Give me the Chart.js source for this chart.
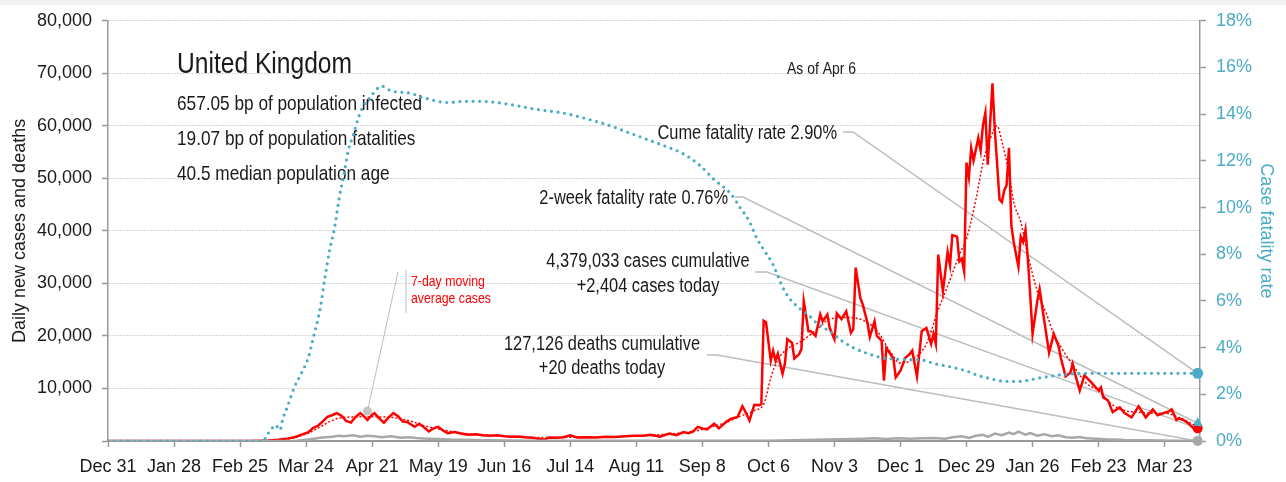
<!DOCTYPE html>
<html>
<head>
<meta charset="utf-8">
<script src="https://cdn.jsdelivr.net/npm/chart.js@4.4.1/dist/chart.umd.min.js"></script>
<style>
  html, body { margin: 0; padding: 0; background: #fff; }
</style>
</head>
<body>
<canvas id="chart" width="1286" height="482"></canvas>
<script>
// days counted from Dec 31, 2019 (day 0) to Apr 6, 2021 (day 462)
const tickDays = [0, 28, 56, 84, 112, 140, 168, 196, 224, 252, 280, 308, 336, 364, 392, 420, 448];
const tickLabels = ['Dec 31', 'Jan 28', 'Feb 25', 'Mar 24', 'Apr 21', 'May 19', 'Jun 16', 'Jul 14',
  'Aug 11', 'Sep 8', 'Oct 6', 'Nov 3', 'Dec 1', 'Dec 29', 'Jan 26', 'Feb 23', 'Mar 23'];

// daily new cases
const caseDays = [0, 30, 60, 64, 68, 72, 76, 79, 82, 85, 87, 89, 91, 93, 95, 97, 99, 101, 103, 105,
  107, 109, 110, 112, 113, 115, 117, 119, 121, 123, 125, 127, 130, 132, 134, 136, 138, 140, 142, 144,
  147, 150, 153, 156, 159, 162, 165, 168, 171, 174, 177, 180, 183, 185, 187, 190, 193, 196, 199, 203,
  207, 211, 215, 219, 223, 227, 230, 234, 238, 241, 244, 246, 248, 250, 252, 254, 257, 259, 262, 264,
  267, 269, 270, 272, 274, 276, 277, 278, 279, 281, 282, 283, 284, 286, 287, 288, 290, 291, 293, 294,
  295, 297, 298, 300, 302, 303, 305, 306, 308, 309, 311, 313, 315, 316, 317, 319, 320, 322, 323, 325,
  326, 328, 329, 330, 333, 334, 336, 338, 340, 341, 343, 345, 347, 349, 350, 351, 352, 354, 356, 357,
  358, 360, 361, 362, 363, 364, 365, 366, 367, 369, 370, 371, 372, 373, 375, 376, 378, 379, 380, 381,
  382, 383, 384, 386, 387, 388, 389, 390, 391, 392, 394, 395, 397, 399, 401, 403, 404, 406, 408, 409,
  410, 412, 414, 417, 420, 421, 422, 424, 426, 429, 431, 434, 437, 440, 443, 445, 450, 451, 453, 454,
  456, 458, 460, 462];
const caseValues = [0, 0, 0, 50, 100, 250, 450, 700, 1200, 1700, 2500, 2900, 3700, 4600, 4900, 5300, 4800, 3800, 3500, 4600,
  5300, 4500, 4000, 5000, 5300, 4300, 3500, 4500, 5300, 4700, 3700, 3600, 2700, 3300, 2600, 1800, 2400, 2700, 2000, 1500,
  1700, 1400, 1200, 1300, 1100, 1000, 1100, 900, 800, 850, 700, 600, 400, 250, 650, 600, 700, 1100, 650, 700,
  650, 800, 750, 900, 1000, 1000, 1200, 800, 1400, 1100, 1700, 1500, 1800, 2700, 2400, 2200, 3300, 2400, 3600, 4200,
  4600, 6600, 5800, 3900, 6900, 6800, 7000, 22900, 22600, 15300, 17200, 15300, 16600, 12800, 14700, 19400, 18700, 15700, 16500, 17500,
  26600, 20900, 20900, 20000, 24100, 22800, 24100, 21500, 19400, 24300, 23200, 24700, 20600, 21300, 33000, 27200, 26000, 22500, 19800, 22800,
  20000, 19100, 11500, 17700, 15700, 12100, 13400, 15800, 16600, 17200, 12300, 20900, 21500, 18500, 20400, 18500, 35500, 28500, 36000, 33500,
  39200, 38900, 34200, 34700, 32300, 53000, 50200, 55800, 53400, 57700, 55300, 60200, 62500, 52600, 68100, 59200, 46000, 45500, 47700, 48700,
  55800, 41100, 37900, 33200, 38900, 37900, 40200, 34700, 27900, 20400, 26600, 28900, 22800, 16800, 20400, 18100, 15800, 12300, 13000, 14700,
  12800, 9600, 12500, 11100, 9600, 10200, 8300, 7700, 5500, 6400, 5300, 4500, 6600, 4500, 6000, 4900, 5700, 6000, 4000, 4300,
  4000, 3400, 2500, 2404];

// 7-day moving average of cases
const avgDays = [0, 60, 70, 78, 85, 90, 95, 100, 110, 120, 128, 135, 142, 150, 160, 170, 180, 190, 200, 210,
  220, 230, 240, 248, 255, 262, 268, 274, 278, 281, 284, 288, 294, 300, 306, 313, 320, 326, 332, 336,
  342, 347, 352, 356, 361, 364, 368, 371, 374, 377, 379, 382, 384, 387, 390, 394, 398, 401, 405, 409,
  415, 420, 425, 431, 437, 442, 448, 454, 459, 462];
const avgValues = [0, 0, 150, 500, 1500, 2700, 3900, 4500, 4600, 4500, 3800, 2800, 2100, 1500, 1100, 850, 650, 650, 750, 750,
  850, 1100, 1400, 1800, 2600, 3500, 4700, 5800, 7000, 12000, 15500, 17500, 19000, 21000, 23200, 23500, 23000, 21000, 16800, 14800,
  15800, 18500, 25000, 29500, 35500, 38500, 46000, 53000, 57500, 60000, 57000, 51000, 45500, 41700, 35500, 28500, 24100, 20400, 17200, 14500,
  10900, 9600, 7200, 5800, 5500, 5300, 5300, 4500, 3400, 2700];

// daily deaths
const deathDays = [0, 75, 80, 85, 90, 95, 98, 100, 104, 107, 110, 113, 116, 120, 124, 128, 132, 136, 140, 145,
  150, 160, 170, 180, 200, 240, 260, 280, 290, 300, 310, 315, 320, 325, 330, 335, 340, 345, 350, 355,
  358, 362, 365, 368, 371, 373, 376, 379, 382, 384, 386, 389, 391, 394, 397, 400, 403, 406, 409, 412,
  415, 419, 423, 427, 431, 436, 441, 447, 452, 457, 462];
const deathValues = [0, 0, 50, 300, 600, 800, 1000, 900, 1100, 800, 1000, 900, 700, 900, 600, 700, 500, 450, 400, 300,
  250, 150, 100, 60, 30, 30, 50, 70, 150, 250, 350, 400, 450, 500, 400, 500, 450, 500, 550, 450,
  700, 900, 600, 1000, 1200, 800, 1400, 1100, 1600, 1300, 1800, 1200, 1500, 1000, 1300, 900, 1100, 700, 600, 750,
  500, 450, 350, 300, 200, 150, 120, 80, 60, 40, 20];

// case fatality rate, percent
const cfrDays = [0, 66, 67, 69, 71, 73, 74, 76, 79, 82, 85, 87, 90, 92, 94, 96, 98, 100, 102, 104,
  106, 108, 111, 116, 120, 128, 134, 144, 151, 158, 165, 174, 182, 193, 203, 213, 221, 229, 237, 244,
  251, 257, 264, 268, 272, 275, 278, 282, 286, 289, 293, 297, 301, 306, 311, 316, 322, 328, 337, 346,
  351, 356, 364, 369, 373, 377, 381, 387, 391, 395, 400, 404, 411, 418, 440, 462];
const cfrValues = [0, 0, 0.2, 0.47, 0.68, 0.47, 0.9, 1.45, 2.3, 2.9, 3.6, 4.4, 5.7, 7.0, 8.2, 9.1, 10.4, 11.4, 12.5, 13.1,
  13.8, 14.3, 14.7, 15.2, 15.0, 14.9, 14.7, 14.5, 14.55, 14.55, 14.5, 14.35, 14.2, 14.05, 13.8, 13.5, 13.2, 12.9, 12.6, 12.3,
  11.8, 11.2, 10.6, 10.0, 9.4, 8.7, 8.2, 7.55, 6.6, 6.1, 5.7, 5.4, 5.0, 4.7, 4.3, 4.0, 3.75, 3.57, 3.5, 3.45,
  3.3, 3.2, 3.0, 2.8, 2.7, 2.6, 2.55, 2.55, 2.62, 2.7, 2.78, 2.84, 2.88, 2.9, 2.9, 2.9];

const twoWeekRate = 0.76;
const avgMarker = { day: 110, value: 5700 };

const RED = '#ff0000';
const TEAL = '#4bacc6';
const GREY = '#a8a8a8';
const LEAD = '#bdbdbd';
const FONT = "'Liberation Sans', Arial, sans-serif";
const SQUEEZE = 0.82; // narrow look for the free text

const lastDay = caseDays[caseDays.length - 1];
const pts = (days, vals) => days.map((d, i) => ({ x: d, y: vals[i] }));

const notes = [
  { t: 'United Kingdom', x: 177, y: 73, size: 30 },
  { t: '657.05 bp of population infected', x: 177, y: 110, size: 21 },
  { t: '19.07 bp of population fatalities', x: 177, y: 145, size: 21 },
  { t: '40.5 median population age', x: 177, y: 180, size: 21 },
  { t: 'As of Apr 6', x: 787, y: 74, size: 17 },
  { t: 'Cume fatality rate 2.90%', x: 837, y: 139, size: 20, align: 'right' },
  { t: '2-week fatality rate 0.76%', x: 728, y: 204, size: 20, align: 'right' },
  { t: '4,379,033 cases cumulative', x: 648, y: 267, size: 20, align: 'center' },
  { t: '+2,404 cases today', x: 648, y: 292, size: 20, align: 'center' },
  { t: '127,126 deaths cumulative', x: 602, y: 350, size: 20, align: 'center' },
  { t: '+20 deaths today', x: 602, y: 374, size: 20, align: 'center' },
  { t: '7-day moving', x: 411, y: 286, size: 15, color: RED },
  { t: 'average cases', x: 411, y: 303, size: 15, color: RED }
];

// leader lines: start point, elbow, then to the last value of a series
const leaders = [
  { from: [843, 132], elbow: [853, 132], axis: 'y2', value: () => cfrValues[cfrValues.length - 1] },
  { from: [735, 197], elbow: [743, 197], axis: 'y2', value: () => twoWeekRate },
  { from: [755, 272], elbow: [767, 272], axis: 'y', value: () => caseValues[caseValues.length - 1] },
  { from: [707, 355], elbow: [717, 355], axis: 'y', value: () => deathValues[deathValues.length - 1] }
];

const decor = {
  id: 'decor',
  beforeDraw(chart) {
    const ctx = chart.ctx;
    ctx.save();
    ctx.fillStyle = '#fff';
    ctx.fillRect(0, 0, chart.width, chart.height);
    ctx.fillStyle = '#f2f2f2';
    ctx.fillRect(0, 0, chart.width, 5);
    ctx.restore();
  },
  beforeDatasetsDraw(chart) {
    const { ctx, scales } = chart;
    const x = scales.x;
    ctx.save();
    ctx.strokeStyle = LEAD;
    ctx.lineWidth = 1.5;
    leaders.forEach(l => {
      const tx = x.getPixelForValue(lastDay);
      const ty = scales[l.axis].getPixelForValue(l.value());
      ctx.beginPath();
      ctx.moveTo(l.from[0], l.from[1]);
      ctx.lineTo(l.elbow[0], l.elbow[1]);
      ctx.lineTo(tx, ty);
      ctx.stroke();
    });
    // moving-average pointer
    const mx = x.getPixelForValue(avgMarker.day);
    const my = scales.y.getPixelForValue(avgMarker.value);
    ctx.lineWidth = 1;
    ctx.beginPath();
    ctx.moveTo(398, 272);
    ctx.lineTo(mx, my);
    ctx.moveTo(406, 270);
    ctx.lineTo(406, 313);
    ctx.stroke();
    ctx.fillStyle = '#c4c4c4';
    ctx.beginPath();
    ctx.arc(mx, my, 4.5, 0, Math.PI * 2);
    ctx.fill();

    ctx.textBaseline = 'alphabetic';
    notes.forEach(n => {
      ctx.save();
      ctx.font = `${n.size}px ${FONT}`;
      ctx.fillStyle = n.color || '#1a1a1a';
      ctx.textAlign = n.align || 'left';
      ctx.translate(n.x, n.y);
      ctx.scale(SQUEEZE, 1);
      ctx.fillText(n.t, 0, 0);
      ctx.restore();
    });
    ctx.restore();
  }
};

Chart.defaults.font.family = FONT;
Chart.defaults.color = '#1a1a1a';

new Chart(document.getElementById('chart'), {
  type: 'line',
  data: {
    datasets: [
      {
        data: pts(cfrDays, cfrValues), yAxisID: 'y2', borderColor: TEAL, borderWidth: 3.2,
        borderDash: [0, 6.6], borderCapStyle: 'round', cubicInterpolationMode: 'monotone', pointRadius: 0
      },
      { data: pts(deathDays, deathValues), yAxisID: 'y', borderColor: GREY, borderWidth: 2.5, pointRadius: 0 },
      {
        data: pts(avgDays, avgValues), yAxisID: 'y', borderColor: RED, borderWidth: 1.5,
        borderDash: [2, 2], cubicInterpolationMode: 'monotone', pointRadius: 0
      },
      { data: pts(caseDays, caseValues), yAxisID: 'y', borderColor: RED, borderWidth: 2.5, pointRadius: 0 },
      {
        data: [{ x: lastDay, y: cfrValues[cfrValues.length - 1] }], yAxisID: 'y2', showLine: false, clip: false,
        pointRadius: 5.5, pointBackgroundColor: TEAL, pointBorderWidth: 0
      },
      {
        data: [{ x: lastDay, y: twoWeekRate }], yAxisID: 'y2', showLine: false, clip: false,
        pointStyle: 'triangle', pointRadius: 6, pointBackgroundColor: TEAL, pointBorderWidth: 0
      },
      {
        data: [{ x: lastDay, y: caseValues[caseValues.length - 1] }], yAxisID: 'y', showLine: false, clip: false,
        pointRadius: 5, pointBackgroundColor: RED, pointBorderWidth: 0
      },
      {
        data: [{ x: lastDay, y: deathValues[deathValues.length - 1] }], yAxisID: 'y', showLine: false, clip: false,
        pointRadius: 5, pointBackgroundColor: GREY, pointBorderWidth: 0
      }
    ]
  },
  options: {
    responsive: false,
    animation: false,
    layout: { padding: { top: 17, left: 0, right: 0, bottom: 0 } },
    plugins: { legend: { display: false }, tooltip: { enabled: false } },
    scales: {
      x: {
        type: 'linear', min: 0, max: 463,
        afterBuildTicks: s => { s.ticks = tickDays.map(v => ({ value: v })); },
        afterFit: s => { s.height = 41; },
        ticks: {
          callback: v => tickLabels[tickDays.indexOf(v)], font: { size: 18 }, padding: 9,
          maxRotation: 0, autoSkip: false, color: '#1a1a1a'
        },
        grid: { drawOnChartArea: false, tickLength: 6, tickColor: '#999', tickWidth: 1.5 },
        border: { color: '#999', width: 2 }
      },
      y: {
        position: 'left', min: 0, max: 80000,
        afterFit: s => { s.width = 108; },
        ticks: {
          stepSize: 10000, font: { size: 18 }, padding: 10, color: '#1a1a1a',
          callback: v => (v === 0 ? '' : v.toLocaleString('en-US'))
        },
        grid: { color: '#aaa', lineWidth: 1, tickLength: 6, tickColor: '#999', tickWidth: 1.5 },
        border: { color: '#999', width: 1.5, dash: [1, 2] },
        title: {
          display: true, text: 'Daily new cases and deaths', font: { size: 18 }, color: '#1a1a1a',
          padding: { top: 9, bottom: 0 }
        }
      },
      y2: {
        position: 'right', min: 0, max: 18,
        afterFit: s => { s.width = 86; },
        ticks: { stepSize: 2, font: { size: 18 }, padding: 10, color: TEAL, callback: v => v + '%' },
        grid: { drawOnChartArea: false, tickLength: 6, tickColor: '#999', tickWidth: 1.5 },
        border: { color: '#999', width: 1.5 },
        title: {
          display: true, text: 'Case fatality rate', font: { size: 18 }, color: TEAL,
          padding: { top: 9, bottom: 0 }
        }
      }
    }
  },
  plugins: [decor]
});
</script>
</body>
</html>
